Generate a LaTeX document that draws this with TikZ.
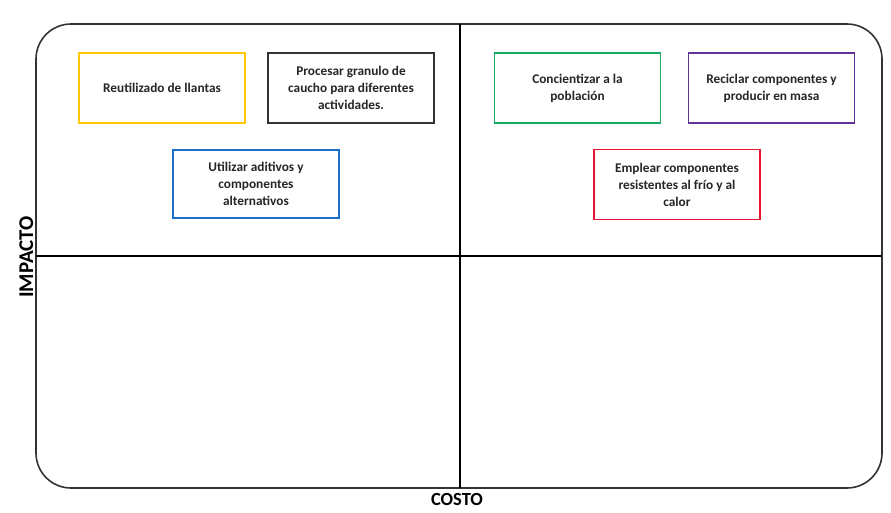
\documentclass[tikz,border=0pt]{standalone}
\usepackage{fontspec}
\setmainfont{Carlito}
\begin{document}
\begin{tikzpicture}[x=1pt,y=-1pt,
  idea/.style={draw, line width=1.8pt, minimum width=166pt, minimum height=70pt, align=center,
    font=\bfseries\fontsize{13.3}{17}\selectfont, text=black!85, inner sep=2pt},
  frame/.style={draw=black!80, line width=1.6pt, rounded corners=35pt},
  divider/.style={draw=black, line width=1.2pt}]
\useasboundingbox (0,0) rectangle (891,512);
\fill[white] (0,0) rectangle (891,512);
\draw[frame] (36,24) rectangle (882,488);
\coordinate (vt) at (460,24);
\coordinate (vb) at (460,488);
\coordinate (hl) at (36,256);
\coordinate (hr) at (882,256);
\draw[divider] (vt) -- (vb);
\draw[divider] (hl) -- (hr);
\node[idea, draw={rgb,255:red,255;green,200;blue,0}] (n1) at (162,88) {Reutilizado de llantas};
\node[idea, draw=black!80] (n2) at (351,88) {Procesar granulo de\\caucho para diferentes\\actividades.};
\node[idea, draw={rgb,255:red,30;green,110;blue,200}, minimum height=68pt] (n3) at (256,184) {Utilizar aditivos y\\componentes\\alternativos};
\node[idea, draw={rgb,255:red,20;green,170;blue,100}] (n4) at (577.5,88) {Concientizar a la\\población};
\node[idea, draw={rgb,255:red,100;green,50;blue,150}] (n5) at (771.5,88) {Reciclar componentes y\\producir en masa};
\node[idea, draw={rgb,255:red,235;green,20;blue,50}] (n6) at (677,184.5) {Emplear componentes\\resistentes al frío y al\\calor};
\node[font=\bfseries\fontsize{21}{24}\selectfont, rotate=90, anchor=base, inner sep=0pt] (imp) at (33,257) {IMPACTO};
\node[font=\bfseries\fontsize{18.5}{22}\selectfont, anchor=base, inner sep=0pt] (cos) at (457,505) {COSTO};
\end{tikzpicture}
\end{document}
